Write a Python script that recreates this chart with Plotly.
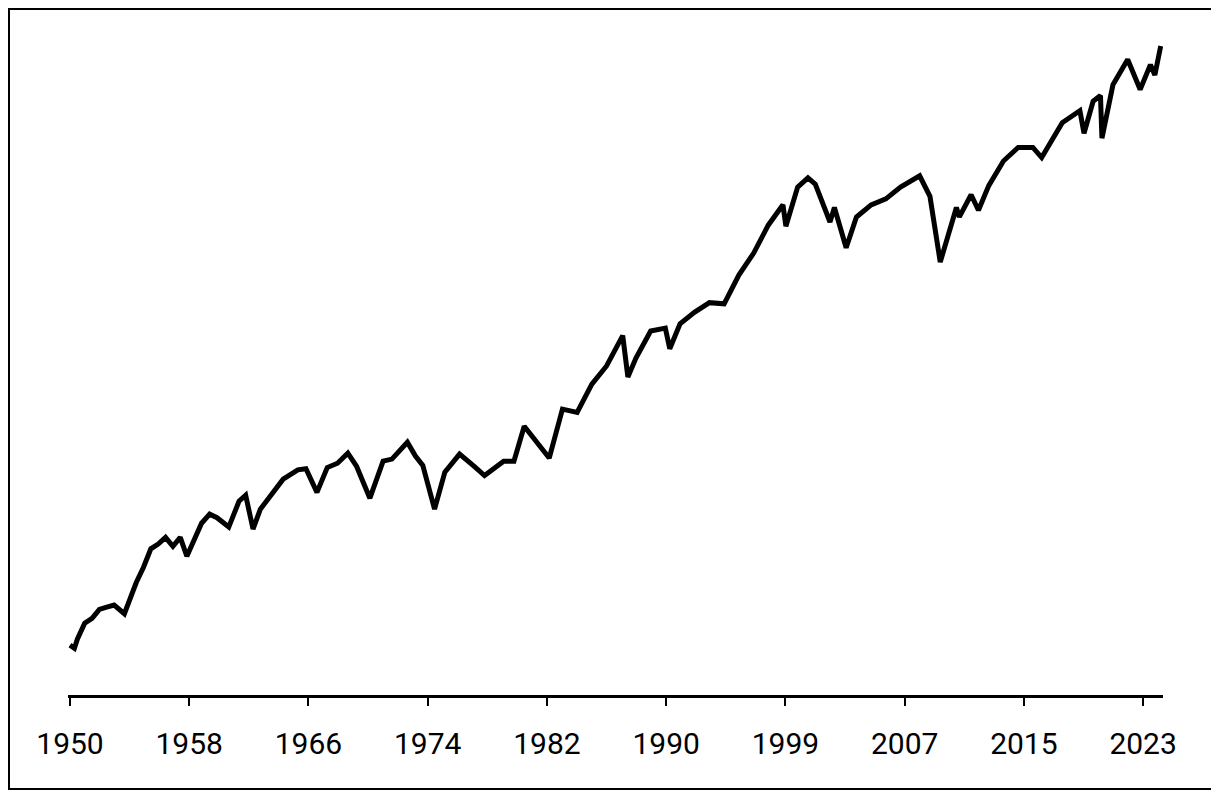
import plotly.graph_objects as go

years = [1950.0,1950.3,1950.5,1951.0,1951.5,1952.0,1952.5,1953.0,1953.7,1954.0,1954.5,1955.0,1955.5,1956.0,1956.5,1957.0,1957.5,1957.95,1958.5,1958.95,1959.5,1960.0,1960.8,1961.5,1961.95,1962.45,1962.95,1963.5,1964.5,1965.5,1966.05,1966.8,1967.5,1968.2,1968.9,1969.5,1970.4,1971.3,1971.9,1972.95,1973.5,1974.0,1974.8,1975.5,1976.5,1977.5,1978.2,1979.5,1980.2,1980.9,1981.5,1982.6,1983.5,1984.5,1985.5,1986.5,1987.6,1987.95,1988.5,1989.5,1990.5,1990.8,1991.5,1992.5,1993.5,1994.5,1995.5,1996.5,1997.5,1998.5,1998.7,1999.5,2000.2,2000.7,2001.7,2002.0,2002.8,2003.5,2004.5,2005.5,2006.5,2007.8,2008.5,2009.2,2010.3,2010.5,2011.3,2011.8,2012.5,2013.5,2014.5,2015.5,2016.1,2017.5,2018.7,2018.98,2019.6,2020.1,2020.2,2020.95,2021.95,2022.8,2023.5,2023.8,2024.2]
sp500 = [17,16.5,18,21,22,24,24.5,25,23,26,31,36,43,45,48,44,48,40,47,55,60,58,53,68,72,52,63,70,84,92,93,74,94,98,108,95,70,100,102,120,105,96,63,90,107,95,87,100,100,140,125,103,165,160,210,250,335,225,270,350,360,295,375,420,460,455,600,740,970,1180,960,1400,1530,1440,1000,1150,780,1050,1180,1250,1400,1560,1280,680,1150,1050,1300,1120,1420,1800,2050,2050,1860,2600,2920,2350,3200,3380,2240,3750,4780,3580,4550,4120,5450]
tick_labels = ["1950","1958","1966","1974","1982","1990","1999","2007","2015","2023"]

step = 73/9
tickvals = [1950 + i*step for i in range(len(tick_labels))]

fig = go.Figure(go.Scatter(x=years, y=sp500, mode="lines",
                           line=dict(color="black", width=5)))
W, H = 1209, 782
ml, mr, mt, mb = 60, 54, 22, 95
pw, ph = W-ml-mr, H-mt-mb
fig.update_layout(
    width=W, height=H, margin=dict(l=ml, r=mr, t=mt, b=mb),
    paper_bgcolor="white", plot_bgcolor="white", showlegend=False,
    xaxis=dict(range=[1950-2/14.7, 1950+(1163-70)/14.7], tickvals=tickvals, ticktext=tick_labels,
               showgrid=False, zeroline=False, showline=True, linecolor="black", linewidth=3,
               ticks="outside", ticklen=8, tickwidth=2, tickcolor="black", ticklabelstandoff=12,
               tickfont=dict(family="Liberation Sans Narrow, Roboto", size=30, color="black")),
    yaxis=dict(type="log", range=[1.022, 3.803], visible=False),
    shapes=[dict(type="rect", xref="paper", yref="paper",
                 x0=-(ml-1)/pw, x1=1+(mr-1)/pw, y0=-(mb-1)/ph, y1=1+(mt-1)/ph,
                 line=dict(color="black", width=2))],
)
fig.write_html("out.html")
